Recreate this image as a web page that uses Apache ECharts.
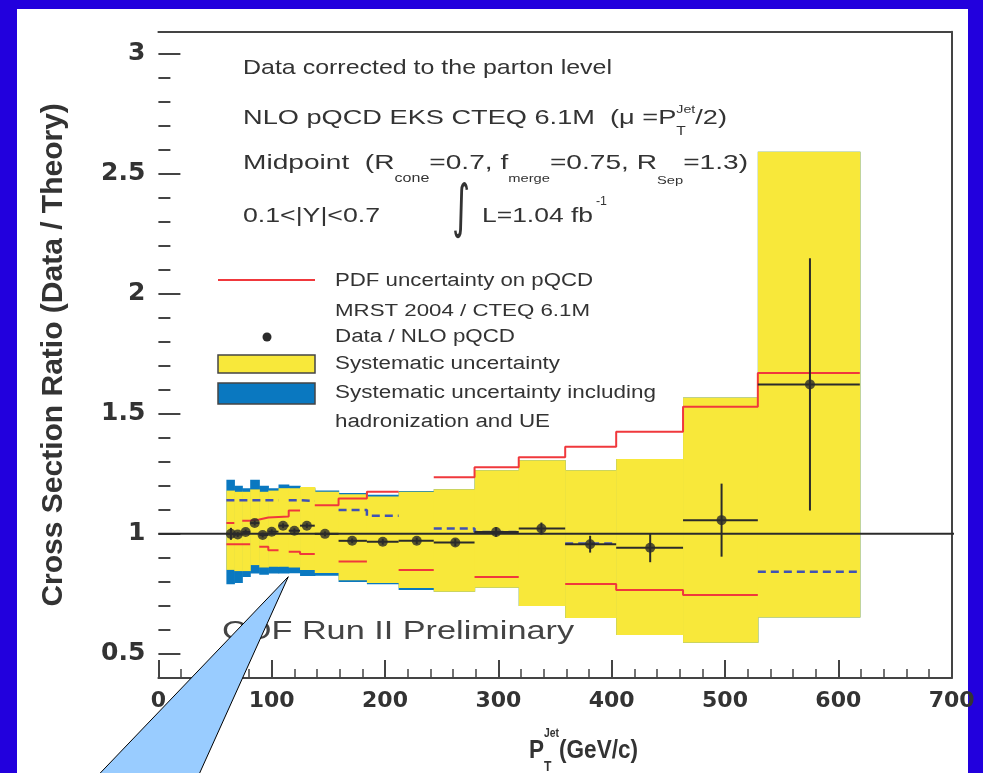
<!DOCTYPE html>
<html>
<head>
<meta charset="utf-8">
<script src="https://cdn.jsdelivr.net/npm/echarts@6/dist/echarts.min.js"></script>
<style>
  html, body { margin: 0; padding: 0; width: 983px; height: 773px; background: #2200dd; overflow: hidden; }
  #panel { position: absolute; left: 17px; top: 9px; width: 951px; height: 764px; background: #ffffff; }
  #chart { position: absolute; left: 0; top: 0; width: 983px; height: 773px; }
</style>
</head>
<body>
<div id="panel"></div>
<div id="chart"></div>
<script>
// Jet pT bins (GeV/c)
const binLow  = [60, 67, 74, 81, 89, 97, 106, 115, 125, 138, 159, 184, 212, 243, 279, 318, 359, 404, 463, 529];
const binHigh = [67, 74, 81, 89, 97, 106, 115, 125, 138, 159, 184, 212, 243, 279, 318, 359, 404, 463, 529, 619];

// Data / NLO pQCD points
const pointPt = [64, 70, 77, 85, 92, 100, 110, 120, 131, 147, 171, 198, 228, 262, 298, 338, 381, 434, 497, 575];
const ratio   = [1.0, 0.997, 1.008, 1.045, 0.995, 1.009, 1.034, 1.013, 1.034, 1.0, 0.971, 0.967, 0.971, 0.964, 1.008, 1.022, 0.957, 0.942, 1.057, 1.622];
const statErr = [0.025, 0.01, 0.01, 0.01, 0.01, 0.01, 0.01, 0.01, 0.01, 0.01, 0.01, 0.012, 0.013, 0.015, 0.02, 0.025, 0.035, 0.06, 0.152, 0.525];

// Systematic uncertainty band
const sysLow  = [0.85, 0.845, 0.845, 0.87, 0.86, 0.863, 0.863, 0.86, 0.85, 0.837, 0.807, 0.795, 0.775, 0.759, 0.776, 0.70, 0.65, 0.579, 0.547, 0.652];
const sysHigh = [1.18, 1.175, 1.175, 1.185, 1.175, 1.18, 1.19, 1.19, 1.195, 1.175, 1.165, 1.155, 1.175, 1.186, 1.265, 1.306, 1.265, 1.311, 1.568, 2.59];

// Systematic uncertainty including hadronization and UE
const sysHadLow  = [0.79, 0.795, 0.82, 0.835, 0.83, 0.835, 0.835, 0.836, 0.825, 0.826, 0.80, 0.79, 0.766, 0.759, 0.776, 0.70, 0.65, 0.579, 0.547, 0.652];
const sysHadHigh = [1.225, 1.2, 1.19, 1.225, 1.2, 1.19, 1.205, 1.2, 1.19, 1.18, 1.17, 1.163, 1.178, 1.186, 1.265, 1.306, 1.265, 1.311, 1.568, 2.59];

// PDF uncertainty on pQCD (MRST 2004 / CTEQ 6.1M)
const pdfHigh = [1.045, null, 1.055, 1.06, 1.068, 1.07, 1.072, 1.097, null, 1.119, 1.147, 1.175, null, 1.236, 1.277, 1.319, 1.362, 1.425, 1.529, 1.669];
const pdfLow  = [0.957, 0.957, 0.957, null, 0.946, 0.932, null, 0.925, 0.916, null, 0.885, null, 0.85, null, 0.82, null, 0.791, 0.766, 0.745, null];

// Parton-to-hadron level correction (dashed)
const hadCorr = [1.14, 1.14, 1.14, 1.14, 1.14, 1.14, null, 1.14, 1.137, null, 1.099, 1.075, null, 1.022, 1.008, null, 0.96, null, null, 0.842];

// Axis ticks
const yMajor = [0.5, 1, 1.5, 2, 2.5, 3];
const yMinor = [0.6, 0.7, 0.8, 0.9, 1.1, 1.2, 1.3, 1.4, 1.6, 1.7, 1.8, 1.9, 2.1, 2.2, 2.3, 2.4, 2.6, 2.7, 2.8, 2.9];

const FONT = '"Liberation Sans", Arial, Helvetica, sans-serif';
const TXT = '#333333';
const YELLOW = '#f8e83a', BLUE = '#0a78c0', RED = '#f0383c', DASH = '#4052b4', INK = '#2b2b2b';

const ctx = document.createElement('canvas').getContext('2d');
function measure(t, size, weight, family) {
  ctx.font = weight + ' ' + size + 'px ' + family;
  return ctx.measureText(t).width;
}
// A run of text pieces (with sub/superscripts) fitted horizontally to a given width
function textRun(x, y, parts, width, opt) {
  opt = opt || {};
  const fam = opt.family || FONT;
  const baseW = opt.weight || 'normal';
  let cx = 0, pend = 0;
  const placed = [];
  parts.forEach(p => {
    const w = measure(p.t, p.s, p.w || baseW, fam);
    placed.push({ p, x: cx });
    if (p.stay) { pend = w; }
    else { cx += Math.max(w, pend); pend = 0; }
  });
  cx += pend;
  const sx = width ? width / cx : 1;
  return placed.map(({ p, x: px }) => ({
    type: 'text', z: 50,
    x: x + px * sx, y: y + (p.dy || 0), scaleX: sx,
    style: { text: p.t, fontSize: p.s, fontFamily: fam, fontWeight: p.w || baseW,
             fill: opt.color || TXT, align: 'left', verticalAlign: 'middle' }
  }));
}

function stepPoints(vals) {
  const pts = [];
  vals.forEach((v, i) => {
    if (v == null) { pts.push([binLow[i], '-']); return; }
    pts.push([binLow[i], v], [binHigh[i], v]);
  });
  return pts;
}

function bandSeries(name, lows, highs, color, z) {
  return {
    type: 'custom', name, z, silent: true,
    data: binLow.map((lo, i) => [lo, binHigh[i], lows[i], highs[i]]),
    encode: { x: [0, 1], y: [2, 3] },
    renderItem(params, api) {
      const a = api.coord([api.value(0), api.value(3)]);
      const b = api.coord([api.value(1), api.value(2)]);
      return { type: 'rect', shape: { x: a[0], y: a[1], width: b[0] - a[0] + 0.6, height: b[1] - a[1] },
               style: { fill: color } };
    }
  };
}

const graphics = [];
// header annotations
graphics.push(...textRun(243, 68, [{ t: 'Data corrected to the parton level', s: 21 }], 369));
graphics.push(...textRun(243, 118, [
  { t: 'NLO pQCD EKS CTEQ 6.1M  (\u03bc =P', s: 21 },
  { t: 'Jet', s: 11, dy: -8, stay: true },
  { t: 'T', s: 12, dy: 14 },
  { t: '/2)', s: 21 }], 484));
graphics.push(...textRun(243, 163, [
  { t: 'Midpoint  (R', s: 21 }, { t: 'cone', s: 12, dy: 16 },
  { t: '=0.7, f', s: 21 }, { t: 'merge', s: 11, dy: 16 },
  { t: '=0.75, R', s: 21 }, { t: 'Sep', s: 11, dy: 18 },
  { t: '=1.3)', s: 21 }], 505));
graphics.push(...textRun(243, 216, [{ t: '0.1<|Y|<0.7', s: 21 }], 137));
graphics.push(...textRun(452, 211, [{ t: '\u222b', s: 58 }], 18, { family: '"DejaVu Sans", sans-serif' }));
graphics.push(...textRun(482, 216, [{ t: 'L=1.04 fb', s: 21 }], 111));
graphics.push(...textRun(596, 202, [{ t: '-1', s: 12 }], 11));

// legend
graphics.push({ type: 'line', z: 50, shape: { x1: 218, y1: 280, x2: 315, y2: 280 },
                style: { stroke: RED, lineWidth: 2 } });
graphics.push(...textRun(335, 281, [{ t: 'PDF uncertainty on pQCD', s: 18 }], 258));
graphics.push(...textRun(335, 312, [{ t: 'MRST 2004 / CTEQ 6.1M', s: 16 }], 255));
graphics.push({ type: 'circle', z: 50, shape: { cx: 267, cy: 337, r: 4.5 }, style: { fill: INK } });
graphics.push(...textRun(335, 337, [{ t: 'Data / NLO pQCD', s: 18 }], 180));
graphics.push({ type: 'rect', z: 50, shape: { x: 218, y: 355, width: 97, height: 18 },
                style: { fill: YELLOW, stroke: '#444', lineWidth: 1.5 } });
graphics.push(...textRun(335, 364, [{ t: 'Systematic uncertainty', s: 18 }], 225));
graphics.push({ type: 'rect', z: 50, shape: { x: 218, y: 383, width: 97, height: 21 },
                style: { fill: BLUE, stroke: '#444', lineWidth: 1.5 } });
graphics.push(...textRun(335, 393, [{ t: 'Systematic uncertainty including', s: 18 }], 321));
graphics.push(...textRun(335, 422, [{ t: 'hadronization and UE', s: 18 }], 215));

// experiment label
graphics.push(...textRun(222, 632, [{ t: 'CDF Run II Preliminary', s: 25 }], 352, { color: '#444' }));

// x axis title
graphics.push(...textRun(529, 751, [
  { t: 'P', s: 26, w: 'bold' },
  { t: 'Jet', s: 12, dy: -17, w: 'bold', stay: true },
  { t: 'T', s: 14, dy: 16, w: 'bold' },
  { t: '(GeV/c)', s: 26, w: 'bold' }], 109));

// callout pointer
graphics.push({
  type: 'polygon', z: 100,
  shape: { points: [[288.3, 576.7], [192, 790], [84, 790]] },
  style: { fill: '#99ccff', stroke: '#000', lineWidth: 1 }
});

const axisInk = { color: '#444', width: 2 };
const yMin = 0.4, yMax = 3.09;

const option = {
  animation: false,
  backgroundColor: 'transparent',
  grid: { left: 158.4, right: 31.4, top: 31.7, bottom: 95, outerBoundsMode: 'none', containLabel: false },
  xAxis: [
    {
      type: 'value', min: 0, max: 700, interval: 100, position: 'bottom',
      axisLine: { show: true, lineStyle: axisInk },
      axisTick: { show: true, inside: true, length: 18, lineStyle: axisInk },
      minorTick: { show: true, splitNumber: 5, length: 9, lineStyle: { color: '#444', width: 1.5 } },
      axisLabel: { fontFamily: '"DejaVu Sans", sans-serif', fontWeight: 'bold', fontSize: 22, color: TXT, margin: 12 },
      splitLine: { show: false }
    },
    {
      type: 'value', min: 0, max: 700, position: 'top',
      axisLine: { show: true, lineStyle: axisInk },
      axisTick: { show: false }, axisLabel: { show: false }, splitLine: { show: false }
    }
  ],
  yAxis: [
    {
      type: 'value', min: yMin, max: yMax, position: 'left',
      axisLine: { show: false },
      axisTick: { show: true, inside: true, length: 22, customValues: yMajor, lineStyle: axisInk },
      axisLabel: { customValues: yMajor, fontFamily: '"DejaVu Sans", sans-serif', fontWeight: 'bold',
                   fontSize: 25, color: TXT, margin: 13 },
      splitLine: { show: false },
      name: 'Cross Section Ratio (Data / Theory)', nameLocation: 'middle', nameRotate: 90, nameGap: 90,
      nameTextStyle: { fontFamily: FONT, fontWeight: 'bold', fontSize: 30, color: TXT }
    },
    {
      type: 'value', min: yMin, max: yMax, position: 'left',
      axisLine: { show: false },
      axisTick: { show: true, inside: true, length: 12, customValues: yMinor, lineStyle: axisInk },
      axisLabel: { show: false }, splitLine: { show: false }
    },
    {
      type: 'value', min: yMin, max: yMax, position: 'right',
      axisLine: { show: true, lineStyle: axisInk },
      axisTick: { show: false }, axisLabel: { show: false }, splitLine: { show: false }
    }
  ],
  graphic: graphics,
  series: [
    bandSeries('Systematic uncertainty including hadronization and UE', sysHadLow, sysHadHigh, BLUE, 1),
    bandSeries('Systematic uncertainty', sysLow, sysHigh, YELLOW, 2),
    {
      name: 'PDF uncertainty (upper)', type: 'line', z: 3, showSymbol: false, silent: true,
      data: stepPoints(pdfHigh), lineStyle: { color: RED, width: 2 }
    },
    {
      name: 'PDF uncertainty (lower)', type: 'line', z: 3, showSymbol: false, silent: true,
      data: stepPoints(pdfLow), lineStyle: { color: RED, width: 2 }
    },
    {
      name: 'Hadronization correction', type: 'line', z: 3, showSymbol: false, silent: true,
      data: stepPoints(hadCorr), lineStyle: { color: DASH, width: 2.5, type: [8, 5] }
    },
    {
      name: 'Unity', type: 'line', z: 4, showSymbol: false, silent: true, clip: false,
      data: [[0, 1], [714, 1]], lineStyle: { color: INK, width: 2 }
    },
    {
      name: 'Data / NLO pQCD errors', type: 'custom', z: 5, silent: true,
      data: pointPt.map((x, i) => [x, ratio[i], statErr[i], binLow[i], binHigh[i]]),
      encode: { x: 0, y: 1 },
      renderItem(params, api) {
        const x = api.value(0), y = api.value(1), e = api.value(2);
        const l = api.coord([api.value(3), y]), r = api.coord([api.value(4), y]);
        const t = api.coord([x, y + e]), b = api.coord([x, y - e]);
        const st = { stroke: INK, lineWidth: 2 };
        return { type: 'group', children: [
          { type: 'line', shape: { x1: l[0], y1: l[1], x2: r[0], y2: r[1] }, style: st },
          { type: 'line', shape: { x1: t[0], y1: t[1], x2: b[0], y2: b[1] }, style: st }
        ] };
      }
    },
    {
      name: 'Data / NLO pQCD', type: 'scatter', z: 6, silent: true,
      data: pointPt.map((x, i) => [x, ratio[i]]),
      symbol: 'circle', symbolSize: 10, itemStyle: { color: INK }
    }
  ]
};

const chart = echarts.init(document.getElementById('chart'), null, { renderer: 'canvas' });
chart.setOption(option);
</script>
</body>
</html>
